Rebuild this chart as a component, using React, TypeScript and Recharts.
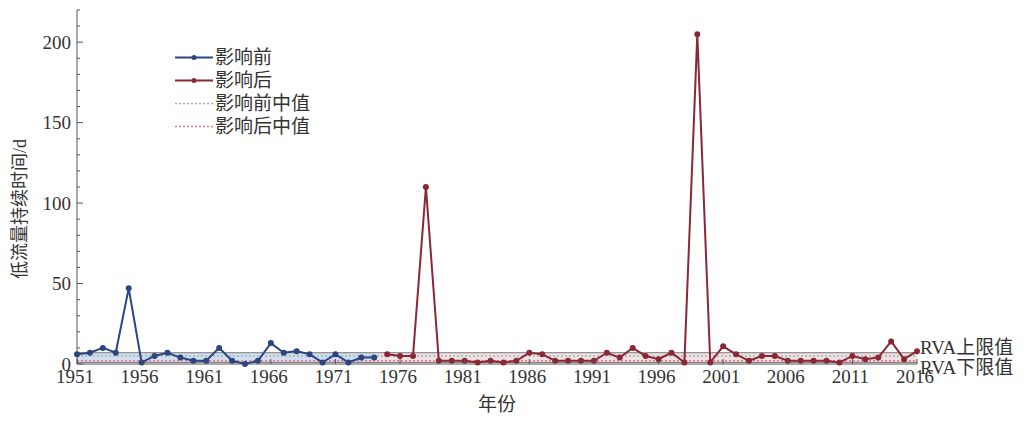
import React from 'react';
import { LineChart, Line, XAxis, YAxis, ReferenceLine, ReferenceArea, Legend } from 'recharts';

// ---- data ----
const years = [
  1951, 1952, 1953, 1954, 1955, 1956, 1957, 1958, 1959, 1960,
  1961, 1962, 1963, 1964, 1965, 1966, 1967, 1968, 1969, 1970,
  1971, 1972, 1973, 1974, 1975, 1976, 1977, 1978, 1979, 1980,
  1981, 1982, 1983, 1984, 1985, 1986, 1987, 1988, 1989, 1990,
  1991, 1992, 1993, 1994, 1995, 1996, 1997, 1998, 1999, 2000,
  2001, 2002, 2003, 2004, 2005, 2006, 2007, 2008, 2009, 2010,
  2011, 2012, 2013, 2014, 2015, 2016,
];
// 影响前 1951-1974
const preYears = [1951, 1974];
const preValues = [6, 7, 10, 7, 47, 1, 5, 7, 4, 2, 2, 10, 2, 0, 2, 13, 7, 8, 6, 1, 6, 1, 4, 4];
// 影响后 1975-2016
const postValues = [
  6, 5, 5, 110, 2, 2, 2, 1, 2, 1,
  2, 7, 6, 2, 2, 2, 2, 7, 4, 10,
  5, 3, 7, 1, 205, 1, 11, 6, 2, 5,
  5, 2, 2, 2, 2, 1, 5, 3, 4, 14,
  3, 8,
];
const xTicks = [1951, 1956, 1961, 1966, 1971, 1976, 1981, 1986, 1991, 1996, 2001, 2006, 2011, 2016];
const yMajorTicks = [0, 50, 100, 150, 200];
const yAllTicks = [0, 10, 20, 30, 40, 50, 60, 70, 80, 90, 100, 110, 120, 130, 140, 150, 160, 170, 180, 190, 200, 210, 220];
const rvaUpper = 7;
const rvaLower = 1;
const preMedian = 5;
const postMedian = 2;
const seriesNames = ['影响前', '影响后', '影响前中值', '影响后中值'];
const rvaLabels = ['RVA上限值', 'RVA下限值'];
const xLabel = '年份';
const yLabel = '低流量持续时间/d';

const BLUE = '#2c4480';
const RED = '#8a2836';
const PRE_MED = '#8fbfae';
const POST_MED = '#e47a8a';
const AXIS = '#555';
const TEXT = '#333';
const FONT = '"Liberation Serif", "Noto Sans CJK SC", serif';

const preEnd = preYears[1];
const data = years.map((year, i) => ({
  year,
  pre: year <= preEnd ? preValues[i] : null,
  post: year > preEnd ? postValues[i - preValues.length] : null,
}));

const YTick = (props: any) => {
  const { x, y, payload } = props;
  const v = payload.value;
  const major = yMajorTicks.includes(v);
  return (
    <g>
      <line x1={x} x2={x + (major ? 6 : 3)} y1={y} y2={y} stroke={AXIS} strokeWidth={1} />
      {major && (
        <text x={x - 6} y={y} dy="0.35em" textAnchor="end" fontSize={19} fontFamily={FONT} fill={TEXT}>
          {v}
        </text>
      )}
    </g>
  );
};

const XTick = (props: any) => {
  const { x, y, payload } = props;
  return (
    <g>
      <line x1={x} x2={x} y1={y} y2={y - 5} stroke={AXIS} strokeWidth={1} />
      <text x={x - 2} y={y + 4} dy="0.8em" textAnchor="middle" fontSize={19} fontFamily={FONT} fill={TEXT}>
        {payload.value}
      </text>
    </g>
  );
};

const LegendContent = () => {
  const items = [
    { name: seriesNames[0], color: BLUE, dash: undefined as string | undefined, dot: true },
    { name: seriesNames[1], color: RED, dash: undefined, dot: true },
    { name: seriesNames[2], color: PRE_MED, dash: '2 2', dot: false },
    { name: seriesNames[3], color: POST_MED, dash: '2 2', dot: false },
  ];
  return (
    <div style={{ fontFamily: FONT, fontSize: 19, color: TEXT }}>
      {items.map((it) => (
        <div key={it.name} style={{ display: 'flex', alignItems: 'center', height: 23 }}>
          <svg width={42} height={23} style={{ display: 'block' }}>
            <line x1={2} x2={40} y1={11.5} y2={11.5} stroke={it.color} strokeWidth={it.dot ? 2 : 1.5} strokeDasharray={it.dash} />
            {it.dot && <circle cx={21} cy={11.5} r={2.5} fill={it.color} />}
          </svg>
          <span style={{ lineHeight: '23px' }}>{it.name}</span>
        </div>
      ))}
    </div>
  );
};

export default function App() {
  return (
    <div style={{ width: 1010, height: 413 }}>
      <LineChart width={1010} height={413} data={data} margin={{ top: 2, right: 101, bottom: 8, left: 0 }}>
        <XAxis
          dataKey="year"
          type="number"
          domain={[1951, 2016]}
          ticks={xTicks}
          interval={0}
          tick={<XTick />}
          tickLine={false}
          tickSize={0}
          tickMargin={0}
          height={49}
          stroke={AXIS}
          label={{ value: xLabel, position: 'insideBottom', offset: 2, fontSize: 19, fontFamily: FONT, fill: TEXT }}
        />
        <YAxis
          type="number"
          domain={[0, 220]}
          ticks={yAllTicks}
          interval={0}
          tick={<YTick />}
          tickLine={false}
          tickSize={0}
          tickMargin={0}
          width={69}
          stroke={AXIS}
          label={{ value: yLabel, angle: -90, position: 'insideLeft', offset: 12, dy: 22, fontSize: 18, fontFamily: FONT, fill: TEXT, style: { textAnchor: 'middle' } }}
        />
        <ReferenceArea x1={1951} x2={preEnd} y1={rvaLower} y2={rvaUpper} fill="#c9d5ec" fillOpacity={0.8} stroke="none" />
        <ReferenceArea x1={preEnd} x2={2016} y1={rvaLower} y2={rvaUpper} fill="#ecd3d8" fillOpacity={0.7} stroke="none" />
        <ReferenceLine y={preMedian} stroke={PRE_MED} strokeDasharray="2 2" strokeWidth={1.5} />
        <ReferenceLine y={postMedian} stroke={POST_MED} strokeDasharray="2 2" strokeWidth={1.5} />
        <ReferenceLine
          y={rvaUpper}
          stroke="#777"
          strokeWidth={1}
          label={{ value: rvaLabels[0], position: 'right', offset: 3, dy: -5, fontSize: 19, fontFamily: FONT, fill: TEXT }}
        />
        <ReferenceLine
          y={rvaLower}
          stroke="#777"
          strokeWidth={1}
          label={{ value: rvaLabels[1], position: 'right', offset: 3, dy: 5, fontSize: 19, fontFamily: FONT, fill: TEXT }}
        />
        <Line
          dataKey="pre"
          name={seriesNames[0]}
          stroke={BLUE}
          strokeWidth={2}
          dot={{ r: 2, fill: BLUE, stroke: BLUE }}
          isAnimationActive={false}
          connectNulls={false}
        />
        <Line
          dataKey="post"
          name={seriesNames[1]}
          stroke={RED}
          strokeWidth={2}
          dot={{ r: 2, fill: RED, stroke: RED }}
          isAnimationActive={false}
          connectNulls={false}
        />
        <Legend
          layout="vertical"
          align="center"
          verticalAlign="middle"
          wrapperStyle={{ left: 165, top: 38, width: 200, height: 95 }}
          content={<LegendContent />}
        />
      </LineChart>
    </div>
  );
}
